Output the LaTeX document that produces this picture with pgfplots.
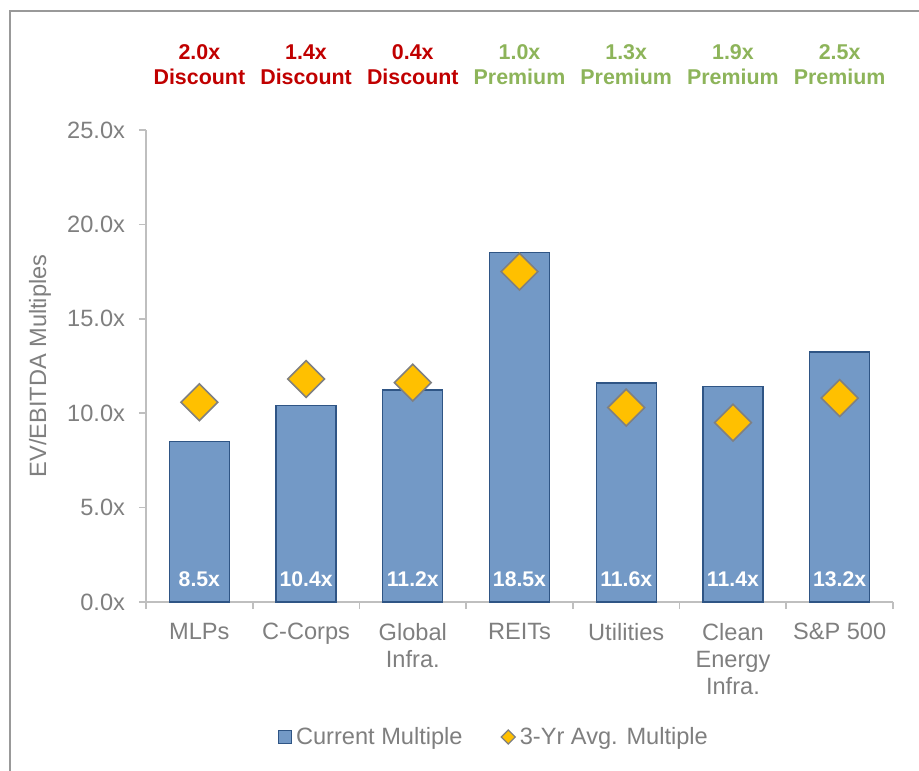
\documentclass[border=0pt]{standalone}
\usepackage{pgfplots}
\pgfplotsset{compat=1.18}
\usepackage{fontspec}
\setmainfont{Liberation Sans}
\definecolor{barfill}{HTML}{7399C6}
\definecolor{baredge}{HTML}{2F5585}
\definecolor{dia}{HTML}{FFC000}
\definecolor{diaedge}{HTML}{808080}
\definecolor{txtgray}{HTML}{7F7F7F}
\definecolor{axgray}{HTML}{BFBFBF}
\definecolor{redtxt}{HTML}{C00000}
\definecolor{greentxt}{HTML}{8DB45A}
\definecolor{framegray}{HTML}{999999}
\newcommand{\reg}{\fontsize{11.8}{13.5}\selectfont}
\newcommand{\bld}{\fontsize{10.7}{12.5}\selectfont\bfseries}
\begin{document}
\begin{tikzpicture}
\useasboundingbox (-73pt,-84pt) rectangle (386.5pt,301pt);
\draw[framegray, line width=0.8pt] (-68pt,-90pt) -- (-68pt,295.5pt) -- (400pt,295.5pt);
\begin{axis}[
  at={(0,0)}, anchor=south west,
  scale only axis, width=373.5pt, height=236pt,
  xmin=-0.5, xmax=6.5, ymin=0, ymax=25,
  axis lines*=left,
  axis line style={draw=axgray, line width=0.8pt, -},
  clip=false,
  ytick={0,5,10,15,20,25},
  yticklabels={0.0x,5.0x,10.0x,15.0x,20.0x,25.0x},
  yticklabel style={font=\reg, text=txtgray, xshift=-3.5pt},
  xtick={0,...,6},
  xticklabels={MLPs,C-Corps,Global\\Infra.,REITs,Utilities,Clean\\Energy\\Infra.,S\&P 500},
  xticklabel style={font=\reg, text=txtgray, align=center, yshift=-3.5pt},
  minor xtick={-0.5,0.5,...,6.5},
  major tick length=3.5pt,
  minor tick length=3.5pt,
  every major x tick/.append style={draw=none},
  tick style={draw=axgray, line width=0.8pt},
  tick align=outside,
  ylabel={EV/EBITDA Multiples},
  ylabel style={at={(axis description cs:-0.142,0.5)}, anchor=center, font=\reg, text=txtgray},
  legend style={at={(axis description cs:0.176,-0.286)}, anchor=west, draw=none, font=\reg, text=txtgray,
    legend columns=-1, /tikz/every even column/.append style={column sep=17pt}, inner sep=0pt},
  legend cell align=left,
]
\addplot[ybar, bar width=30pt, fill=barfill, draw=baredge, line width=0.6pt,
  legend image code/.code={\draw[fill=barfill, draw=baredge, line width=0.6pt] (0pt,-3.25pt) rectangle (6.5pt,3.25pt);}]
  coordinates {(0,8.49) (1,10.4) (2,11.23) (3,18.5) (4,11.6) (5,11.4) (6,13.24)};
\addlegendentry{Current Multiple}
\addplot[only marks, mark=square*, mark size=6.5pt, mark options={rotate=45, fill=dia, draw=diaedge, line width=0.8pt},
  legend image code/.code={\draw[fill=dia, draw=diaedge, line width=0.6pt] (0pt,0pt) -- (3.5pt,3.5pt) -- (7pt,0pt) -- (3.5pt,-3.5pt) -- cycle;}]
  coordinates {(0,10.58) (1,11.81) (2,11.62) (3,17.5) (4,10.3) (5,9.5) (6,10.8)};
\addlegendentry{3-Yr Avg. Multiple}
\addplot[draw=none, mark=none, forget plot, nodes near coords, point meta=explicit symbolic,
  every node near coord/.style={anchor=center, font=\fontsize{10.6}{12}\selectfont\bfseries, text=white}]
  coordinates {(0,1.22) [8.5x] (1,1.22) [10.4x] (2,1.22) [11.2x] (3,1.22) [18.5x] (4,1.22) [11.6x] (5,1.22) [11.4x] (6,1.22) [13.2x]};
\node[align=center, font=\bld, text=redtxt] at (axis cs:0,28.47) {2.0x\\Discount};
\node[align=center, font=\bld, text=redtxt] at (axis cs:1,28.47) {1.4x\\Discount};
\node[align=center, font=\bld, text=redtxt] at (axis cs:2,28.47) {0.4x\\Discount};
\node[align=center, font=\bld, text=greentxt] at (axis cs:3,28.47) {1.0x\\Premium};
\node[align=center, font=\bld, text=greentxt] at (axis cs:4,28.47) {1.3x\\Premium};
\node[align=center, font=\bld, text=greentxt] at (axis cs:5,28.47) {1.9x\\Premium};
\node[align=center, font=\bld, text=greentxt] at (axis cs:6,28.47) {2.5x\\Premium};
\end{axis}
\end{tikzpicture}
\end{document}
